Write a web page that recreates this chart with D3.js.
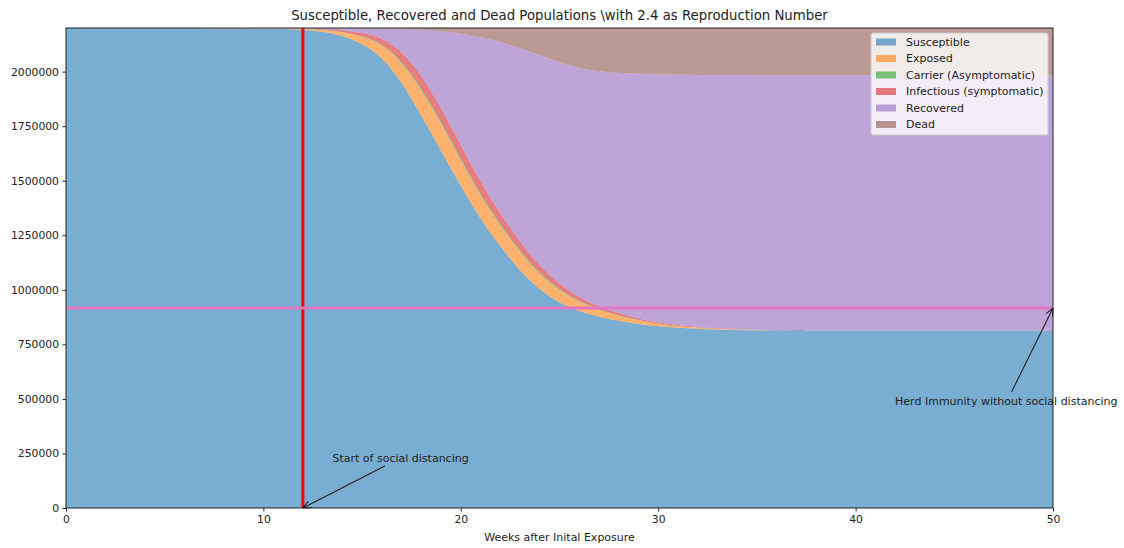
<!DOCTYPE html>
<html>
<head>
  <meta charset="utf-8">
  <title>SEIR stack</title>
  <script src="https://d3js.org/d3.v7.min.js"></script>
  <style>
    body { margin: 0; background: #fff; font-family: "DejaVu Sans", sans-serif; }
    .axis text { font-size: 10.8px; fill: #222; font-family: "DejaVu Sans", sans-serif; }
    .axis path, .axis line { stroke: #222; }
  </style>
</head>
<body>
<div id="chart"></div>
<script>
// weeks after initial exposure
const weeks = [0, 4, 8, 10, 11, 12, 13, 14, 15, 16, 17, 18, 19, 20, 21, 22, 23, 24, 25, 26, 27, 28, 29, 30, 31, 32, 33, 34, 35, 36, 38, 40, 45, 50];
const susceptible = [2199980, 2199850, 2199095, 2197590, 2195610, 2191650, 2185300, 2166000, 2129000, 2070000, 1955000, 1800000, 1637000, 1475000, 1322000, 1200000, 1085000, 1000000, 940000, 900000, 876000, 858000, 843000, 833000, 826000, 821000, 818000, 816000, 815000, 814300, 813400, 813000, 812600, 812500];
const exposed = [10, 60, 350, 900, 1600, 3000, 7000, 16000, 32000, 58000, 90000, 118000, 125000, 118000, 105000, 94000, 84000, 70000, 55000, 42000, 31000, 23000, 16000, 11000, 7500, 5000, 3300, 2200, 1400, 900, 400, 150, 20, 3];
const carrier = [2, 10, 50, 90, 150, 250, 450, 900, 1800, 3300, 5500, 7500, 8500, 8500, 8000, 7500, 7000, 6000, 4800, 3700, 2800, 2000, 1400, 1000, 700, 500, 300, 200, 130, 80, 40, 15, 2, 0];
const infectious = [8, 50, 250, 600, 1100, 2000, 4000, 8500, 16000, 27000, 45000, 60000, 65000, 63000, 57000, 49000, 41000, 33000, 26000, 18000, 14000, 10000, 7000, 5000, 3500, 2500, 1600, 1000, 700, 450, 200, 80, 10, 2];
const recovered = [0, 30, 250, 800, 1500, 3000, 3000, 8000, 20000, 40200, 101500, 207500, 350500, 510500, 667000, 786500, 891000, 966000, 1016200, 1053300, 1076200, 1101000, 1122600, 1137500, 1148300, 1156000, 1161300, 1164600, 1166470, 1167770, 1169160, 1169755, 1170268, 1170395];
const dead = [0, 0, 5, 20, 40, 100, 250, 600, 1200, 1500, 3000, 7000, 14000, 25000, 41000, 63000, 92000, 125000, 158000, 183000, 200000, 206000, 210000, 212500, 214000, 215000, 215500, 216000, 216300, 216500, 216800, 217000, 217100, 217100];

const population = 2200000;
const herdLevel = 916667;      // population / 2.4
const distancingWeek = 12;
const yTicks = [0, 250000, 500000, 750000, 1000000, 1250000, 1500000, 1750000, 2000000];
const xTicks = [0, 10, 20, 30, 40, 50];

const labels = ["Susceptible", "Exposed", "Carrier (Asymptomatic)", "Infectious (symptomatic)", "Recovered", "Dead"];
const series = [susceptible, exposed, carrier, infectious, recovered, dead];
const colors = ["#1f77b4", "#ff7f0e", "#2ca02c", "#d62728", "#9467bd", "#8c564b"];

const width = 1124, height = 548;
const margin = {top: 28, right: 71, bottom: 40, left: 66};
const iw = width - margin.left - margin.right;
const ih = height - margin.top - margin.bottom;

const rows = weeks.map((w, i) => {
  const r = {week: w};
  labels.forEach((k, j) => r[k] = series[j][i]);
  return r;
});

const x = d3.scaleLinear().domain([0, 50]).range([0, iw]);
const y = d3.scaleLinear().domain([0, population]).range([ih, 0]);

const svg = d3.select("#chart").append("svg")
  .attr("width", width)
  .attr("height", height);

svg.append("defs").append("marker")
  .attr("id", "arrow")
  .attr("viewBox", "0 0 10 10")
  .attr("refX", 10).attr("refY", 5)
  .attr("markerWidth", 9).attr("markerHeight", 9)
  .attr("markerUnits", "userSpaceOnUse")
  .attr("orient", "auto")
  .append("path")
    .attr("d", "M1,1 L10,5 L1,9")
    .attr("fill", "none")
    .attr("stroke", "#222")
    .attr("stroke-width", 1.2);

const g = svg.append("g").attr("transform", `translate(${margin.left},${margin.top})`);

const stacked = d3.stack().keys(labels)(rows);

const area = d3.area()
  .x(d => x(d.data.week))
  .y0(d => y(d[0]))
  .y1(d => y(d[1]))
  .curve(d3.curveBasis);

g.append("g").selectAll("path")
  .data(stacked)
  .enter().append("path")
    .attr("d", area)
    .attr("fill", (d, i) => colors[i])
    .attr("fill-opacity", 0.6);

// start of social distancing
g.append("line")
  .attr("x1", x(distancingWeek)).attr("x2", x(distancingWeek))
  .attr("y1", 0).attr("y2", ih)
  .attr("stroke", "red")
  .attr("stroke-width", 3);

// herd immunity threshold
g.append("line")
  .attr("x1", 0).attr("x2", iw)
  .attr("y1", y(herdLevel)).attr("y2", y(herdLevel))
  .attr("stroke", "#e377c2")
  .attr("stroke-width", 3);

// axes
g.append("g")
  .attr("class", "axis")
  .attr("transform", `translate(0,${ih})`)
  .call(d3.axisBottom(x).tickValues(xTicks).tickSizeOuter(0).tickSize(3.5).tickPadding(3.5))
  .call(a => a.select(".domain").remove());

g.append("g")
  .attr("class", "axis")
  .call(d3.axisLeft(y).tickValues(yTicks).tickFormat(d3.format("d")).tickSizeOuter(0).tickSize(3.5).tickPadding(3.5))
  .call(a => a.select(".domain").remove());

g.append("rect")
  .attr("width", iw).attr("height", ih)
  .attr("fill", "none")
  .attr("stroke", "#222")
  .attr("stroke-width", 1);

// annotations
const notes = [
  {text: "Start of social distancing", tx: 13.5, ty: 212000, ax: 16.15, ay: 192000, px: distancingWeek, py: 0},
  {text: "Herd Immunity without social distancing", tx: 42, ty: 473000, ax: 47.9, ay: 532000, px: 50, py: herdLevel}
];

notes.forEach(n => {
  g.append("line")
    .attr("x1", x(n.ax)).attr("y1", y(n.ay))
    .attr("x2", x(n.px)).attr("y2", y(n.py))
    .attr("stroke", "#222")
    .attr("stroke-width", 1.1)
    .attr("marker-end", "url(#arrow)");
  g.append("text")
    .attr("x", x(n.tx)).attr("y", y(n.ty))
    .attr("font-size", "11px")
    .attr("fill", "#222")
    .text(n.text);
});

// title and axis label
svg.append("text")
  .attr("x", margin.left + iw / 2).attr("y", 20)
  .attr("text-anchor", "middle")
  .attr("font-size", "13.3px")
  .attr("fill", "#222")
  .text("Susceptible, Recovered and Dead Populations \\with 2.4 as Reproduction Number");

svg.append("text")
  .attr("x", margin.left + iw / 2).attr("y", 541)
  .attr("text-anchor", "middle")
  .attr("font-size", "11px")
  .attr("fill", "#222")
  .text("Weeks after Inital Exposure");

// legend
const legend = g.append("g").attr("transform", `translate(${iw - 182},5)`);
legend.append("rect")
  .attr("width", 177).attr("height", 102)
  .attr("rx", 2)
  .attr("fill", "#fff").attr("fill-opacity", 0.8)
  .attr("stroke", "#ccc");

labels.forEach((k, i) => {
  const row = legend.append("g").attr("transform", `translate(5,${9 + i * 16.5})`);
  row.append("rect")
    .attr("width", 20).attr("height", 7).attr("y", -3.5)
    .attr("fill", colors[i]).attr("fill-opacity", 0.6);
  row.append("text")
    .attr("x", 30).attr("dy", "0.35em")
    .attr("font-size", "11px")
    .attr("fill", "#222")
    .text(k);
});
</script>
</body>
</html>
